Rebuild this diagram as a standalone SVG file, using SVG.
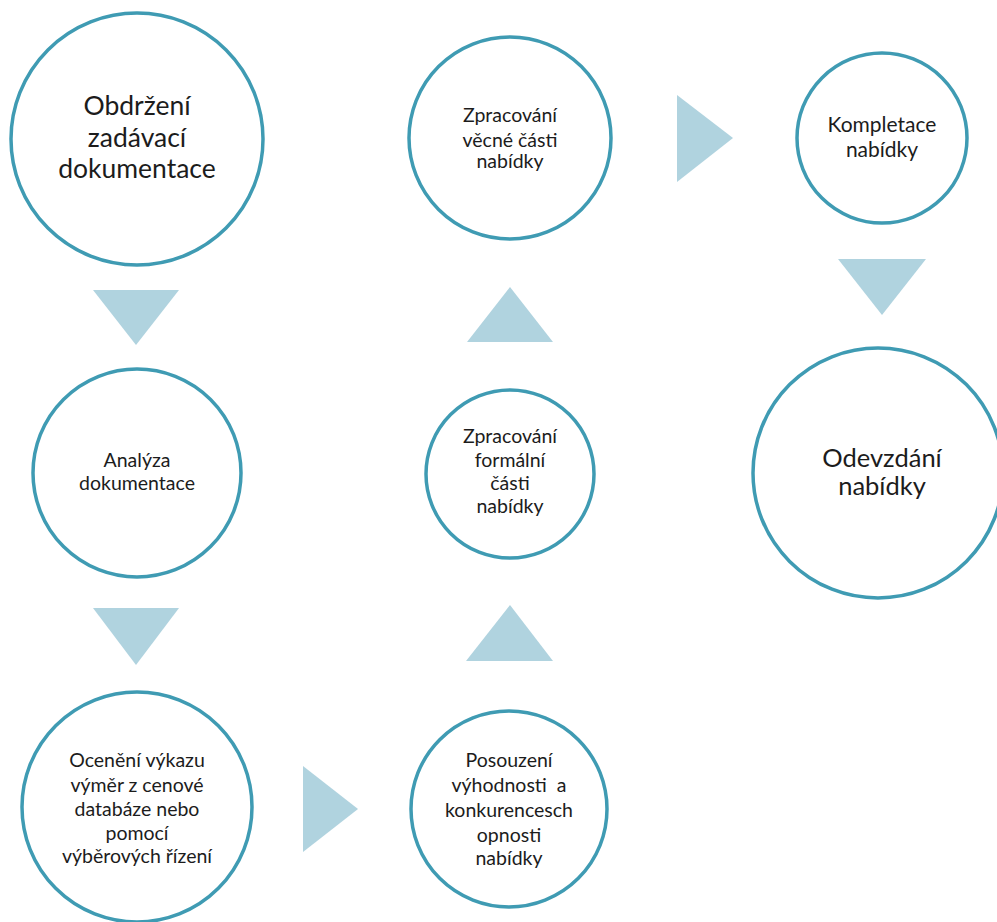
<svg xmlns="http://www.w3.org/2000/svg" width="997" height="922" viewBox="0 0 997 922">
  <style>
    .node circle { fill: #ffffff; stroke: #3f9bb3; stroke-width: 3.5; }
    .node text { font-family: Lato, "Liberation Sans", sans-serif; fill: #1c1c1c; text-anchor: middle; }
    .big { font-size: 26.5px; }
    .mid { font-size: 25.5px; }
    .md2 { font-size: 21px; }
    .sm { font-size: 19.5px; }
    .arrow { fill: #b0d3df; }
  </style>
  <rect width="997" height="922" fill="#ffffff"/>

  <!-- flow arrows -->
  <g id="connectors">
    <polygon class="arrow" points="93,290 179,290 136,345"/>
    <polygon class="arrow" points="93,608 179,608 136,665"/>
    <polygon class="arrow" points="303,766 303,852 358,809"/>
    <polygon class="arrow" points="466,661 553,661 510,605"/>
    <polygon class="arrow" points="467,342 553,342 510,287"/>
    <polygon class="arrow" points="677,95 677,182 733,138"/>
    <polygon class="arrow" points="838,259 926,259 882,315"/>
  </g>

  <g id="obdrzeni" class="node">
    <circle cx="137" cy="139" r="126"/>
    <text class="big" x="137" y="115">Obdržení</text>
    <text class="big" x="137" y="147">zadávací</text>
    <text class="big" x="137" y="178">dokumentace</text>
  </g>

  <g id="analyza" class="node">
    <circle cx="137" cy="473" r="104"/>
    <text class="sm" x="137" y="467">Analýza</text>
    <text class="sm" x="137" y="490">dokumentace</text>
  </g>

  <g id="oceneni" class="node">
    <circle cx="137" cy="807" r="115"/>
    <text class="sm" x="137" y="767">Ocenění výkazu</text>
    <text class="sm" x="137" y="792">výměr z cenové</text>
    <text class="sm" x="137" y="816">databáze nebo</text>
    <text class="sm" x="137" y="840">pomocí</text>
    <text class="sm" x="137" y="863">výběrových řízení</text>
  </g>

  <g id="posouzeni" class="node">
    <circle cx="509" cy="809" r="98"/>
    <text class="sm" x="509" y="767">Posouzení</text>
    <text class="sm" x="509" y="792" xml:space="preserve">výhodnosti  a</text>
    <text class="sm" x="509" y="817">konkurencesch</text>
    <text class="sm" x="509" y="842">opnosti</text>
    <text class="sm" x="509" y="865">nabídky</text>
  </g>

  <g id="formalni" class="node">
    <circle cx="510" cy="474" r="84"/>
    <text class="sm" x="510" y="443">Zpracování</text>
    <text class="sm" x="510" y="467">formální</text>
    <text class="sm" x="510" y="490">části</text>
    <text class="sm" x="510" y="513">nabídky</text>
  </g>

  <g id="vecne" class="node">
    <circle cx="510" cy="138" r="101"/>
    <text class="sm" x="510" y="122">Zpracování</text>
    <text class="sm" x="510" y="147">věcné části</text>
    <text class="sm" x="510" y="168">nabídky</text>
  </g>

  <g id="kompletace" class="node">
    <circle cx="882" cy="138" r="85"/>
    <text class="md2" x="882" y="132">Kompletace</text>
    <text class="md2" x="882" y="157">nabídky</text>
  </g>

  <g id="odevzdani" class="node">
    <circle cx="878" cy="473" r="125"/>
    <text class="mid" x="882" y="467">Odevzdání</text>
    <text class="mid" x="882" y="495">nabídky</text>
  </g>
</svg>
